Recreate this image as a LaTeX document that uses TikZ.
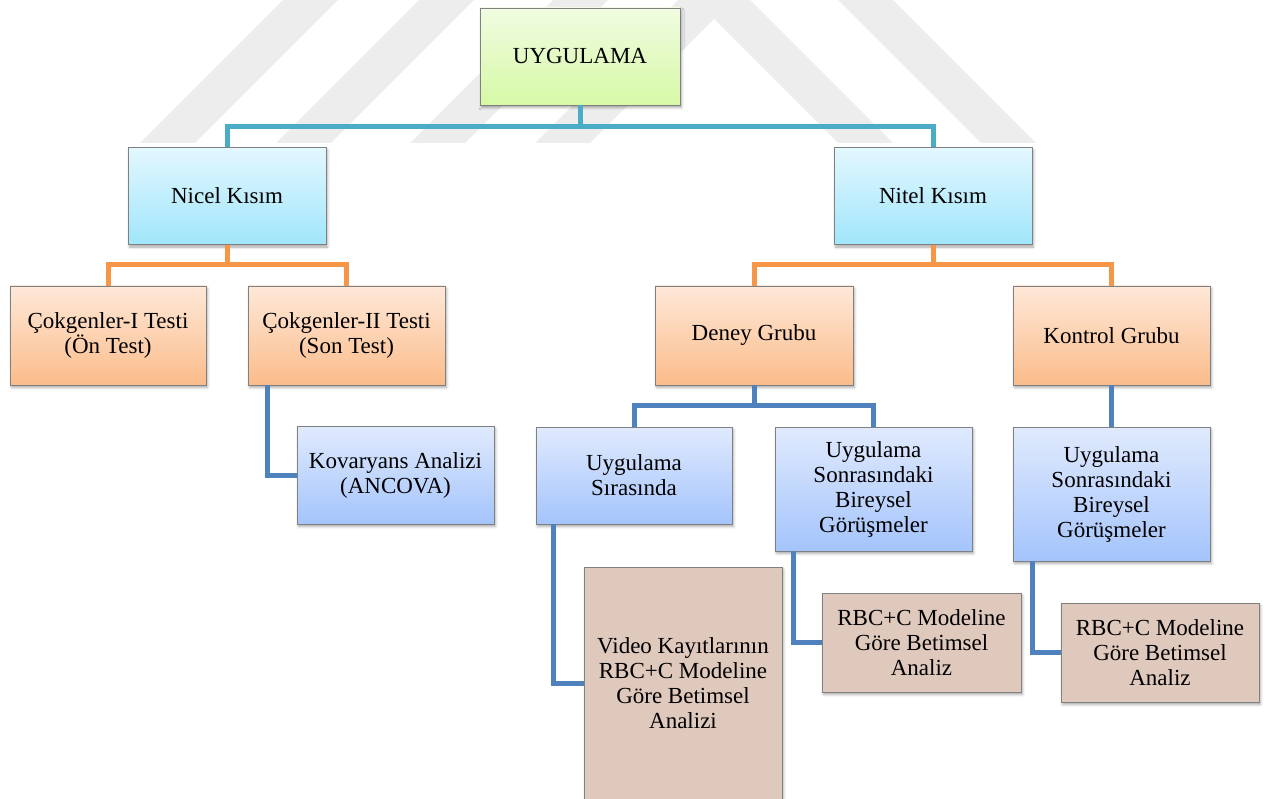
\documentclass[tikz,border=0pt]{standalone}
\usepackage{fontspec}
\setmainfont{Liberation Serif}
\usetikzlibrary{shadows.blur,calc,backgrounds}

\definecolor{linkteal}{HTML}{4BACC6}
\definecolor{linkorange}{HTML}{F79646}
\definecolor{linkblue}{HTML}{4F81BD}
\definecolor{markgray}{HTML}{EDEDED}
\definecolor{greentop}{HTML}{F1FCE2}
\definecolor{greenbot}{HTML}{D6F9A6}
\definecolor{cyantop}{HTML}{E3F7FE}
\definecolor{cyanbot}{HTML}{A0E6FB}
\definecolor{orangetop}{HTML}{FEE8D8}
\definecolor{orangebot}{HTML}{FBBC8A}
\definecolor{bluetop}{HTML}{E0EAFD}
\definecolor{bluebot}{HTML}{A4C4FC}
\definecolor{tanfill}{HTML}{DFC8BC}

\tikzset{
  box/.style={draw=black!50, line width=0.8pt, align=center, inner sep=2pt,
    font=\fontsize{23}{25}\selectfont,
    blur shadow={shadow xshift=1.5pt, shadow yshift=-2.5pt,
      shadow blur radius=2.5pt, shadow opacity=35}},
  greenbox/.style={box, top color=greentop, bottom color=greenbot},
  cyanbox/.style={box, top color=cyantop, bottom color=cyanbot},
  orangebox/.style={box, top color=orangetop, bottom color=orangebot},
  bluebox/.style={box, top color=bluetop, bottom color=bluebot},
  tanbox/.style={box, fill=tanfill},
  link/.style={line width=5pt},
}

\begin{document}
\begin{tikzpicture}[x=1pt,y=-1pt]
\useasboundingbox (0,0) rectangle (1265,799);

% faint logo mark in the background
\fill[markgray] (140,143) -- (195,143) -- (338,0) -- (283,0) -- cycle;
\fill[markgray] (276,143) -- (331,143) -- (474,0) -- (419,0) -- cycle;
\fill[markgray] (410,143) -- (465,143) -- (608,0) -- (553,0) -- cycle;
\fill[markgray] (535,143) -- (678,0) -- (750,0) -- (893,143) -- (838,143)
  -- (714,19) -- (590,143) -- cycle;
\fill[markgray] (838,0) -- (893,0) -- (1036,143) -- (981,143) -- cycle;

% boxes
\node[greenbox, minimum width=200pt, minimum height=97pt] (top) at (580,56.5) {UYGULAMA};

\node[cyanbox, minimum width=198pt, minimum height=97pt] (nicel) at (227,196) {Nicel Kısım};
\node[cyanbox, minimum width=198pt, minimum height=97pt] (nitel) at (933,196) {Nitel Kısım};

\node[orangebox, minimum width=196pt, minimum height=99pt] (test1) at (108,335.5) {Çokgenler-I Testi\\(Ön Test)};
\node[orangebox, minimum width=197pt, minimum height=99pt] (test2) at (346.5,335.5) {Çokgenler-II Testi\\(Son Test)};
\node[orangebox, minimum width=198pt, minimum height=99pt] (deney) at (754,335.5) {Deney Grubu};
\node[orangebox, minimum width=197pt, minimum height=99pt] (kontrol) at (1111.5,335.5) {Kontrol Grubu};

\node[bluebox, minimum width=197pt, minimum height=98pt] (ancova) at (395.5,475) {Kovaryans Analizi\\(ANCOVA)};
\node[bluebox, minimum width=196pt, minimum height=97pt] (sira) at (634,475.5) {Uygulama\\Sırasında};
\node[bluebox, minimum width=197pt, minimum height=124pt] (sonra) at (873.5,489) {Uygulama\\Sonrasındaki\\Bireysel\\Görüşmeler};
\node[bluebox, minimum width=197pt, minimum height=134pt] (ksonra) at (1111.5,494) {Uygulama\\Sonrasındaki\\Bireysel\\Görüşmeler};

\node[tanbox, minimum width=198pt, minimum height=233pt] (video) at (683,683.5) {Video Kayıtlarının\\RBC+C Modeline\\Göre Betimsel\\Analizi};
\node[tanbox, minimum width=199pt, minimum height=99pt] (rbca) at (921.5,642.5) {RBC+C Modeline\\Göre Betimsel\\Analiz};
\node[tanbox, minimum width=198pt, minimum height=99pt] (rbcb) at (1160,652.5) {RBC+C Modeline\\Göre Betimsel\\Analiz};

% connectors
\draw[link, linkteal] (top.south) -- ++(0,21) -| (nicel.north);
\draw[link, linkteal] (top.south) -- ++(0,21) -| (nitel.north);

\draw[link, linkorange] (nicel.south) -- ++(0,20) -| (test1.north);
\draw[link, linkorange] (nicel.south) -- ++(0,20) -| (test2.north);
\draw[link, linkorange] (nitel.south) -- ++(0,20) -| (deney.north);
\draw[link, linkorange] (nitel.south) -- ++(0,20) -| (kontrol.north);

\draw[link, linkblue] (deney.south) -- ++(0,20) -| (sira.north);
\draw[link, linkblue] (deney.south) -- ++(0,20) -| (sonra.north);
\draw[link, linkblue] (kontrol.south) -- (ksonra.north);

\draw[link, linkblue] ($(test2.south west)+(20,0)$) |- (ancova.west);
\draw[link, linkblue] ($(sira.south west)+(18,0)$) |- (video.west);
\draw[link, linkblue] ($(sonra.south west)+(19,0)$) |- (rbca.west);
\draw[link, linkblue] ($(ksonra.south west)+(20,0)$) |- (rbcb.west);
\end{tikzpicture}
\end{document}
